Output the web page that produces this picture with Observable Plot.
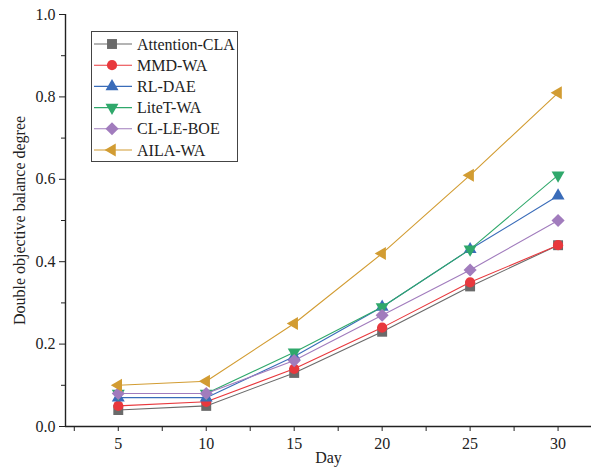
<!DOCTYPE html>
<html>
<head>
<meta charset="utf-8">
<script src="https://cdn.jsdelivr.net/npm/d3@7"></script>
<script src="https://cdn.jsdelivr.net/npm/@observablehq/plot@0.6"></script>
<style>
  html, body { margin: 0; padding: 0; background: #fff; }
  #wrap { position: relative; width: 591px; height: 472px; }
  #legend { position: absolute; left: 0; top: 0; pointer-events: none; }
</style>
</head>
<body>
<div id="wrap"></div>
<script>
const days = [5, 10, 15, 20, 25, 30];
const seriesNames = ["Attention-CLA", "MMD-WA", "RL-DAE", "LiteT-WA", "CL-LE-BOE", "AILA-WA"];
const attentionCLA = [0.04, 0.05, 0.13, 0.23, 0.34, 0.44];
const mmdWA = [0.05, 0.06, 0.14, 0.24, 0.35, 0.44];
const rlDAE = [0.07, 0.07, 0.17, 0.29, 0.43, 0.56];
const liteTWA = [0.08, 0.08, 0.18, 0.29, 0.43, 0.61];
const clLEBOE = [0.08, 0.08, 0.16, 0.27, 0.38, 0.50];
const ailaWA = [0.10, 0.11, 0.25, 0.42, 0.61, 0.81];
const xTicks = [5, 10, 15, 20, 25, 30];
const xMinorTicks = [2.5, 7.5, 12.5, 17.5, 22.5, 27.5];
const yTicks = [0, 0.2, 0.4, 0.6, 0.8, 1.0];
const yMinorTicks = [0.1, 0.3, 0.5, 0.7, 0.9];
const xLabel = "Day";
const yLabel = "Double objective balance degree";

const colors = ["#6a6a6a", "#e8383d", "#3a6cb9", "#2fa86b", "#a17cbd", "#d29c32"];
const symbols = ["square", "circle", "triangle", "triangle", "diamond2", "triangle"];
const rotations = [0, 0, 0, 180, 0, -90];
const radii = [5.6, 5.1, 4.8, 4.8, 5.9, 4.8];

const allValues = [attentionCLA, mmdWA, rlDAE, liteTWA, clLEBOE, ailaWA];
const data = [];
seriesNames.forEach((name, i) => {
  allValues[i].forEach((v, j) => data.push({series: name, idx: i, day: days[j], value: v}));
});

const font = "Liberation Serif, Times New Roman, serif";
const marks = [];
seriesNames.forEach((name, i) => {
  const d = data.filter(r => r.series === name);
  marks.push(Plot.line(d, {x: "day", y: "value", stroke: colors[i], strokeWidth: 1.1}));
  marks.push(Plot.dot(d, {x: "day", y: "value", fill: colors[i], stroke: "none",
    symbol: () => symbols[i], r: radii[i], rotate: rotations[i]}));
});

const plot = Plot.plot({
  width: 591,
  height: 472,
  marginLeft: 65,
  marginRight: 0,
  marginTop: 14,
  marginBottom: 46,
  style: {fontFamily: font, fontSize: "15px", background: "#fff", color: "#222"},
  x: {domain: [2, 31.9]},
  y: {domain: [0, 1]},
  symbol: {type: "identity"},
  marks: [
    Plot.axisX({ticks: xTicks, tickSize: 5, tickPadding: 6, fontSize: 16, label: null}),
    Plot.axisX({ticks: xMinorTicks, tickSize: 5, text: null, label: null}),
    Plot.axisY({ticks: yTicks, tickSize: 6, tickPadding: 4, fontSize: 16, tickFormat: d3.format(".1f"), label: null}),
    Plot.axisY({ticks: yMinorTicks, tickSize: 4, text: null, label: null}),
    Plot.text([xLabel], {frameAnchor: "bottom", dy: 36, text: d => d, fontSize: 16, fill: "#222"}),
    Plot.text([yLabel], {frameAnchor: "left", dx: -46, rotate: -90, textAnchor: "middle", text: d => d, fontSize: 16, fill: "#222"}),
    Plot.ruleX([2], {stroke: "#222", strokeWidth: 1.4}),
    Plot.ruleY([0], {stroke: "#222", strokeWidth: 1.4}),
    ...marks
  ]
});
document.getElementById("wrap").appendChild(plot);

// Legend overlay
const lg = d3.select("#wrap").append("svg").attr("id", "legend")
  .attr("width", 591).attr("height", 472);
lg.append("rect").attr("x", 91.5).attr("y", 31.5).attr("width", 146).attr("height", 130)
  .attr("fill", "#fff").attr("stroke", "#444").attr("stroke-width", 1);
const symMap = {square: d3.symbolSquare, circle: d3.symbolCircle, triangle: d3.symbolTriangle, diamond2: d3.symbolDiamond2};
seriesNames.forEach((name, i) => {
  const cy = 44 + i * 21.2;
  const g = lg.append("g");
  g.append("line").attr("x1", 94).attr("x2", 132).attr("y1", cy).attr("y2", cy)
    .attr("stroke", colors[i]).attr("stroke-width", 1.1);
  g.append("path").attr("d", d3.symbol(symMap[symbols[i]], Math.PI * radii[i] * radii[i])())
    .attr("transform", `translate(112,${cy}) rotate(${rotations[i]})`)
    .attr("fill", colors[i]);
  g.append("text").attr("x", 137).attr("y", cy).attr("dy", "0.35em")
    .attr("font-family", font).attr("font-size", 16).attr("fill", "#222").text(name);
});
</script>
</body>
</html>
